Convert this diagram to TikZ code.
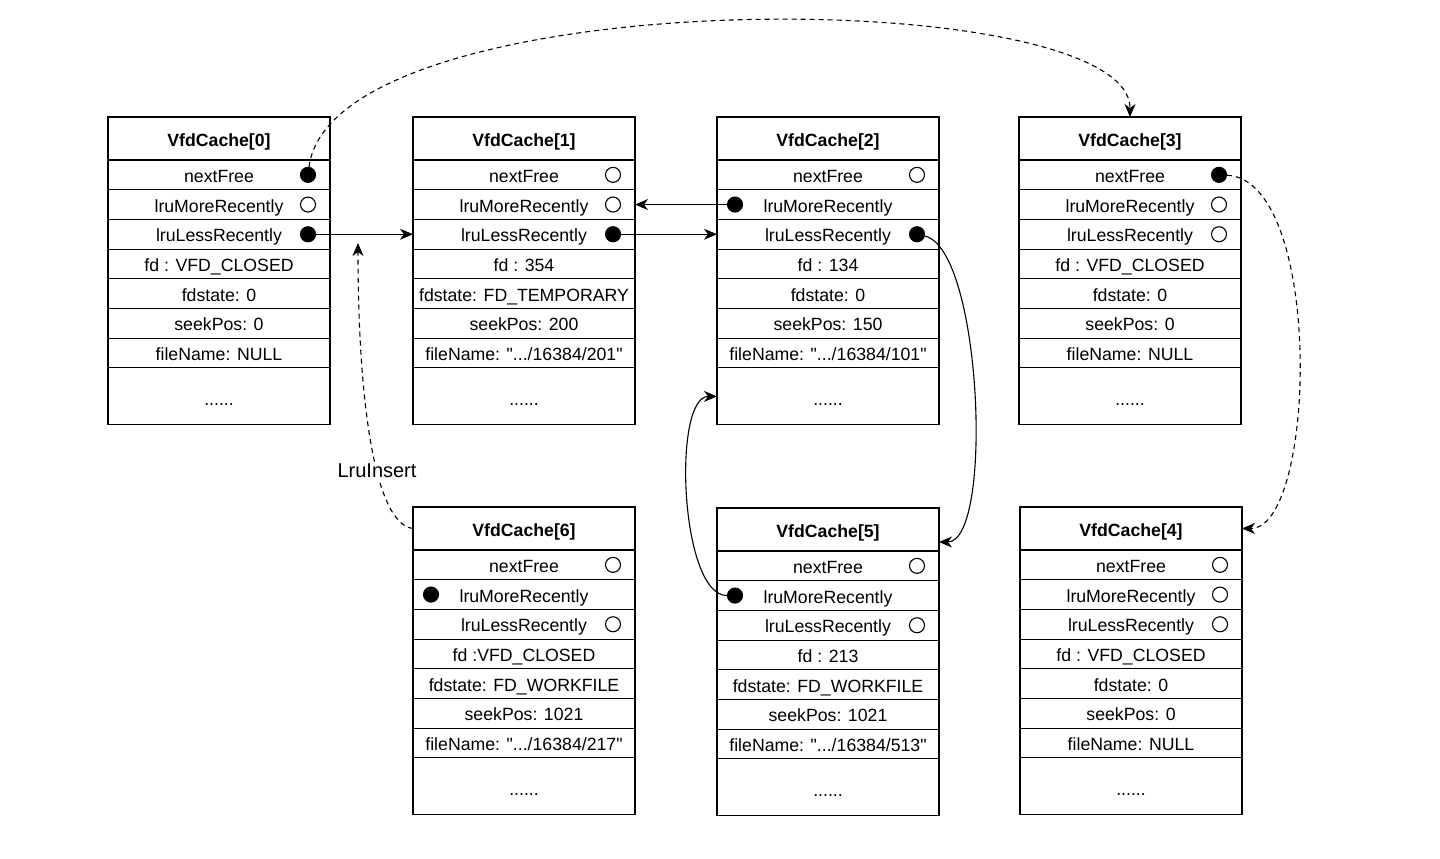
\documentclass[tikz,border=0pt]{standalone}
\usepackage{fontspec}
\setmainfont{Liberation Sans}[Ligatures=TeXOff]
\usetikzlibrary{arrows.meta}

\newcommand{\boxfont}{\fontsize{17.7}{21}\selectfont}

\tikzset{
  cell/.style={draw, line width=1.1pt, minimum width=222pt, minimum height=29.7pt, inner sep=0pt, outer sep=0pt,
    text height=15pt, text depth=0pt, anchor=north, font=\boxfont},
  headcell/.style={cell, minimum height=43pt, anchor=north west, font=\boxfont\bfseries},
  footcell/.style={cell, minimum height=57pt, text height=19pt},
  dotfull/.style={circle, draw, fill=black, line width=1.1pt, minimum size=15pt, inner sep=0pt, text height=, text depth=},
  dotopen/.style={dotfull, fill=white},
  link/.style={-{Stealth[length=13pt,width=11pt,inset=4pt]}, line width=1.1pt},
  freelink/.style={link, dash pattern=on 5pt off 4pt},
}

% one VfdCache entry: name, top left corner, title, rows (text/dot)
\newcommand{\vfdbox}[4]{%
  \node[headcell] (#1-0) at (#2) {#3};
  \foreach \txt/\dt [count=\i] in {#4} {
    \pgfmathtruncatemacro{\prev}{\i-1}
    \node[cell] (#1-\i) at (#1-\prev.south) {\txt};
    \if\dt r \node[dotfull] (#1-\i-d) at ([xshift=-22pt]#1-\i.east) {};\fi
    \if\dt o \node[dotopen] (#1-\i-d) at ([xshift=-22pt]#1-\i.east) {};\fi
    \if\dt l \node[dotfull] (#1-\i-d) at ([xshift=18pt]#1-\i.west) {};\fi
  }
  \node[footcell] (#1-8) at (#1-7.south) {......};
}

\begin{document}
\begin{tikzpicture}[x=1pt, y=-1pt, font=\boxfont]
  \useasboundingbox (0,0) rectangle (1440,859);

  \vfdbox{c0}{108,117}{VfdCache[0]}{nextFree/r, lruMoreRecently/o, lruLessRecently/r,
    {fd : VFD\_CLOSED}/n, {fdstate: 0}/n, {seekPos: 0}/n, {fileName: NULL}/n}
  \vfdbox{c1}{413,117}{VfdCache[1]}{nextFree/o, lruMoreRecently/o, lruLessRecently/r,
    {fd : 354}/n, {fdstate: FD\_TEMPORARY}/n, {seekPos: 200}/n, {fileName: ".../16384/201"}/n}
  \vfdbox{c2}{717,117}{VfdCache[2]}{nextFree/o, lruMoreRecently/l, lruLessRecently/r,
    {fd : 134}/n, {fdstate: 0}/n, {seekPos: 150}/n, {fileName: ".../16384/101"}/n}
  \vfdbox{c3}{1019,117}{VfdCache[3]}{nextFree/r, lruMoreRecently/o, lruLessRecently/o,
    {fd : VFD\_CLOSED}/n, {fdstate: 0}/n, {seekPos: 0}/n, {fileName: NULL}/n}
  \vfdbox{c6}{413,507}{VfdCache[6]}{nextFree/o, lruMoreRecently/l, lruLessRecently/o,
    {fd :VFD\_CLOSED}/n, {fdstate: FD\_WORKFILE}/n, {seekPos: 1021}/n, {fileName: ".../16384/217"}/n}
  \vfdbox{c5}{717,508}{VfdCache[5]}{nextFree/o, lruMoreRecently/l, lruLessRecently/o,
    {fd : 213}/n, {fdstate: FD\_WORKFILE}/n, {seekPos: 1021}/n, {fileName: ".../16384/513"}/n}
  \vfdbox{c4}{1020,507}{VfdCache[4]}{nextFree/o, lruMoreRecently/o, lruLessRecently/o,
    {fd : VFD\_CLOSED}/n, {fdstate: 0}/n, {seekPos: 0}/n, {fileName: NULL}/n}

  % free list
  \draw[freelink] (c0-1-d) .. controls +(25,-195) and +(0,-135) .. (c3-0.north);
  \draw[freelink] (c3-1-d) .. controls +(105,5) and +(75,0) .. (c4-0.east);

  % lru ring
  \draw[link] (c0-3-d) -- (c1-3.west);
  \draw[link] (c1-3-d) -- (c2-3.west);
  \draw[link] (c2-2-d) -- (c1-2.east);
  \draw[link] (c2-3-d) .. controls +(65,15) and +(55,0) .. ([yshift=9pt]c5-0.south east);
  \draw[link] (c5-2-d) .. controls +(-55,0) and +(-45,0) .. (c2-8.west);

  % insert
  \coordinate (ins) at (358,243);
  \draw[freelink] (c6-0.west) .. controls +(-40,-5) and +(0,150) .. (ins);
  \node[fill=white, inner sep=2pt, font=\fontsize{20}{24}\selectfont] (lbl) at (377,471) {LruInsert};
\end{tikzpicture}
\end{document}
